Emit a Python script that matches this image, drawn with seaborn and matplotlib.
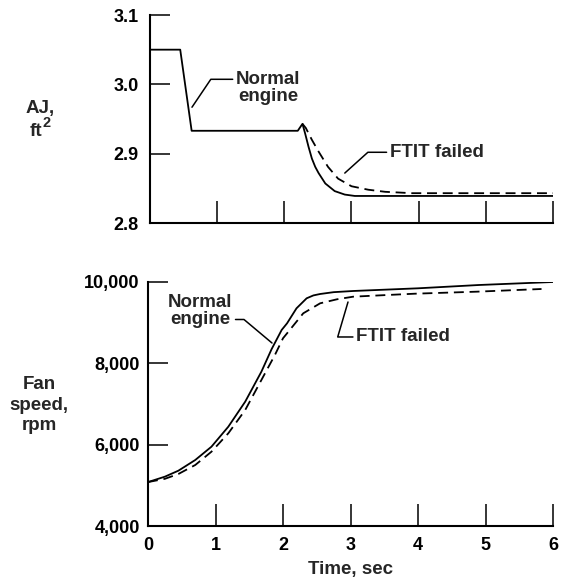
import matplotlib
matplotlib.use("Agg")
import matplotlib.pyplot as plt
import pandas as pd
import seaborn as sns

# ---------------- data ----------------
# Top panel: exhaust nozzle area AJ, ft^2
t_aj_normal = [0.0, 0.45, 0.62, 2.20, 2.27, 2.31, 2.36, 2.41, 2.46, 2.51, 2.61,
               2.75, 2.90, 3.05, 6.0]
aj_normal = [3.050, 3.050, 2.933, 2.933, 2.943, 2.929, 2.910, 2.893, 2.881, 2.872,
             2.857, 2.846, 2.841, 2.839, 2.839]

t_aj_failed = [2.27, 2.32, 2.41, 2.51, 2.65, 2.80, 3.00, 3.25, 3.50, 3.90, 6.0]
aj_failed = [2.943, 2.937, 2.920, 2.903, 2.881, 2.864, 2.853, 2.848, 2.845, 2.843,
             2.843]

# Bottom panel: fan speed, rpm
t_fan_normal = [0.0, 0.25, 0.45, 0.70, 0.94, 1.19, 1.44, 1.68, 1.83, 1.98, 2.06,
                2.20, 2.35, 2.45, 2.55, 2.75, 3.04, 4.00, 4.90, 6.0]
fan_normal = [5080, 5213, 5360, 5623, 5950, 6442, 7057, 7795, 8345, 8820, 8984,
              9353, 9599, 9670, 9705, 9750, 9779, 9845, 9926, 10000]

t_fan_failed = [0.0, 0.25, 0.45, 0.70, 0.94, 1.19, 1.44, 1.68, 1.88, 2.00, 2.06,
                2.30, 2.55, 2.80, 3.04, 3.54, 3.95, 4.87, 5.83]
fan_failed = [5080, 5160, 5279, 5500, 5827, 6280, 6852, 7590, 8205, 8616, 8738,
              9230, 9476, 9575, 9639, 9680, 9712, 9762, 9828]

aj_ticks = [2.8, 2.9, 3.0, 3.1]
aj_ticklabels = ["2.8", "2.9", "3.0", "3.1"]
fan_ticks = [4000, 6000, 8000, 10000]
fan_ticklabels = ["4,000", "6,000", "8,000", "10,000"]
time_ticks = [0, 1, 2, 3, 4, 5, 6]
time_ticklabels = ["0", "1", "2", "3", "4", "5", "6"]

# ---------------- style ----------------
sns.set_theme(style="ticks")
plt.rcParams["font.family"] = ["Liberation Sans", "DejaVu Sans"]
plt.rcParams["font.weight"] = "bold"
plt.rcParams["axes.labelweight"] = "bold"

FS = 13
FSA = 13.5
W, H = 562, 581

df_aj = pd.concat([
    pd.DataFrame({"t": t_aj_normal, "v": aj_normal, "case": "Normal engine"}),
    pd.DataFrame({"t": t_aj_failed, "v": aj_failed, "case": "FTIT failed"}),
])
df_fan = pd.concat([
    pd.DataFrame({"t": t_fan_normal, "v": fan_normal, "case": "Normal engine"}),
    pd.DataFrame({"t": t_fan_failed, "v": fan_failed, "case": "FTIT failed"}),
])
dash_map = {"Normal engine": "", "FTIT failed": (5.5, 3.2)}

fig = plt.figure(figsize=(W / 100, H / 100), dpi=100)
fig.patch.set_facecolor("white")
ax1 = fig.add_axes([150 / W, 1 - 223 / H, (553 - 150) / W, (223 - 15) / H])
ax2 = fig.add_axes([148 / W, 1 - 526 / H, (553 - 148) / W, (526 - 282) / H])

for ax, df in ((ax1, df_aj), (ax2, df_fan)):
    sns.lineplot(data=df, x="t", y="v", style="case", dashes=dash_map,
                 color="black", linewidth=1.3, estimator=None, legend=False, ax=ax)
    ax.set_facecolor("white")
    for s in ("top", "right"):
        ax.spines[s].set_visible(False)
    for s in ("left", "bottom"):
        ax.spines[s].set_linewidth(1.5)
        ax.spines[s].set_color("black")
    ax.tick_params(direction="in", color="black", width=1.1, labelsize=FS,
                   labelcolor="black", pad=8)
    ax.tick_params(axis="y", length=14.4)
    ax.tick_params(axis="x", length=16)
    ax.set_xlim(0, 6)
    ax.set_xticks(time_ticks)
    ax.set_ylabel("")
    ax.set_xlabel("")

ax1.set_ylim(2.8, 3.1)
ax1.set_yticks(aj_ticks)
ax1.set_yticklabels(aj_ticklabels, fontweight="bold")
ax1.set_xticklabels([])

ax2.set_ylim(4000, 10000)
ax2.set_yticks(fan_ticks)
ax2.set_yticklabels(fan_ticklabels, fontweight="bold")
ax2.set_xticklabels(time_ticklabels, fontweight="bold")
ax2.tick_params(axis="y", pad=6)
ax2.set_xlabel("Time, sec", fontsize=FSA, fontweight="bold", labelpad=5)

# ---------------- annotations ----------------
def leader(ax, text, xy, xytext, relpos, angleB):
    ax.annotate(text, xy=xy, xytext=xytext, textcoords="data",
                ha="center", va="center", fontsize=FSA, fontweight="bold",
                multialignment="center", linespacing=1.0,
                arrowprops=dict(arrowstyle="-", color="black", lw=1.1,
                                relpos=relpos, shrinkA=0, shrinkB=0,
                                connectionstyle=f"angle,angleA=0,angleB={angleB},rad=0"))

leader(ax1, "Normal\nengine", (0.625, 2.967), (1.76, 2.995), (0, 0.75), 56)
leader(ax1, "FTIT failed", (2.90, 2.872), (4.27, 2.902), (0, 0.5), 42)
leader(ax2, "Normal\nengine", (1.837, 8500), (0.77, 9287), (1, 0.25), 140)
leader(ax2, "FTIT failed", (2.963, 9508), (3.78, 8648), (0, 0.5), 73.6)

# ---------------- y-axis titles ----------------
fig.text(40 / W, 1 - 108 / H, "AJ,", ha="center", va="center",
         fontsize=FSA, fontweight="bold")
fig.text(36 / W, 1 - 131 / H, "ft", ha="center", va="center",
         fontsize=FSA, fontweight="bold")
fig.text(47 / W, 1 - 123 / H, "2", ha="center", va="center",
         fontsize=10.5, fontweight="bold")
fig.text(39 / W, 1 - 405 / H, "Fan\nspeed,\nrpm", ha="center", va="center",
         fontsize=FSA, fontweight="bold", linespacing=1.25,
         multialignment="center")

fig.savefig("out.png", dpi=100, facecolor="white")
